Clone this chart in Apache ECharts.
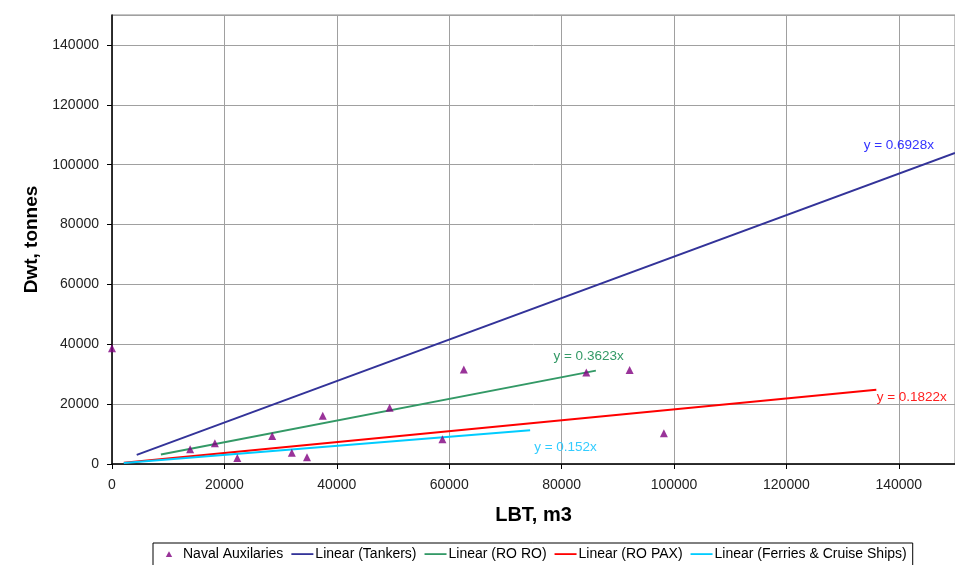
<!DOCTYPE html>
<html><head><meta charset="utf-8">
<script src="https://cdn.jsdelivr.net/npm/echarts@6/dist/echarts.min.js"></script>
<style>html,body{margin:0;padding:0;background:#fff}#c{width:955px;height:565px}</style>
</head><body><div id="c"></div>
<script>
// Naval Auxilaries points [LBT m3, Dwt tonnes]
const navalAux = [
  [0, 38700], [13900, 4900], [18300, 6900], [22300, 2000], [28500, 9350],
  [32000, 3800], [34700, 2250], [37500, 16100], [49400, 18800], [58800, 8250],
  [62600, 31600], [84400, 30600], [92100, 31400], [98200, 10250]
];
// Trend line endpoints
const tankersLine = [[4400, 3050], [150000, 103920]];
const roroLine = [[8700, 3150], [86100, 31200]];
const ropaxLine = [[2100, 380], [136000, 24780]];
const ferriesLine = [[2100, 320], [74400, 11310]];
const equations = ['y = 0.6928x', 'y = 0.3623x', 'y = 0.1822x', 'y = 0.152x'];
const xTicks = {min: 0, max: 150000, interval: 20000};
const yTicks = {min: 0, max: 150000, interval: 20000};

const font = 'Liberation Sans, Arial, sans-serif';
const chart = echarts.init(document.getElementById('c'));

function eqLabel(coord, text, color) {
  return {
    symbol: 'rect', symbolSize: [1, 1], silent: true,
    itemStyle: {color: 'rgba(0,0,0,0)'},
    label: {show: true, position: 'inside', formatter: text, color: color,
      fontFamily: font, fontSize: 13.5},
    data: [{coord: coord, value: text}]
  };
}
const lineIcon = 'path://M0,0M22,8M0,3.2L22,3.2L22,5L0,5Z';
const triIcon = 'path://M0,0M22,8M10,1.2L13.2,7L6.8,7Z';

chart.setOption({
  animation: false,
  grid: {left: 112, right: 0, top: 15, bottom: 101, show: true, borderColor: '#888', borderWidth: 1},
  xAxis: {
    type: 'value', min: xTicks.min, max: xTicks.max, interval: xTicks.interval,
    name: 'LBT, m3', nameLocation: 'middle', nameGap: 41,
    nameTextStyle: {fontFamily: font, fontSize: 20, fontWeight: 'bold', color: '#000'},
    axisLine: {show: true, onZero: false, lineStyle: {color: '#000', width: 1.5}},
    axisTick: {show: true, length: 5, lineStyle: {color: '#000'}},
    axisLabel: {fontFamily: font, fontSize: 14, color: '#222', margin: 14, showMaxLabel: false,
      formatter: v => String(v)},
    splitLine: {show: true, lineStyle: {color: '#a0a0a0', width: 1}}
  },
  yAxis: {
    type: 'value', min: yTicks.min, max: yTicks.max, interval: yTicks.interval,
    name: 'Dwt, tonnes', nameLocation: 'middle', nameGap: 61,
    nameTextStyle: {fontFamily: font, fontSize: 19, fontWeight: 'bold', color: '#000'},
    axisLine: {show: true, onZero: false, lineStyle: {color: '#000', width: 1.5}},
    axisTick: {show: true, length: 5, lineStyle: {color: '#000'}},
    axisLabel: {fontFamily: font, fontSize: 14, color: '#222', margin: 13, showMaxLabel: false,
      formatter: v => String(v)},
    splitLine: {show: true, lineStyle: {color: '#a0a0a0', width: 1}}
  },
  legend: {
    left: 153, top: 543, padding: [4, 6, 8, 6], itemGap: 8, itemWidth: 22, itemHeight: 8,
    borderColor: '#000', borderWidth: 1, backgroundColor: '#fff',
    textStyle: {fontFamily: font, fontSize: 14, color: '#000', padding: [0, 0, 0, -3]},
    data: [
      {name: 'Naval Auxilaries', icon: triIcon},
      {name: 'Linear (Tankers)', icon: lineIcon},
      {name: 'Linear (RO RO)', icon: lineIcon},
      {name: 'Linear (RO PAX)', icon: lineIcon},
      {name: 'Linear (Ferries & Cruise Ships)', icon: lineIcon}
    ]
  },
  series: [
    {name: 'Linear (Tankers)', type: 'line', data: tankersLine, symbol: 'none',
     lineStyle: {color: '#333399', width: 2}, itemStyle: {color: '#333399'},
     markPoint: eqLabel([140000, 106500], equations[0], '#3333ff')},
    {name: 'Linear (RO RO)', type: 'line', data: roroLine, symbol: 'none',
     lineStyle: {color: '#339966', width: 2}, itemStyle: {color: '#339966'},
     markPoint: eqLabel([84800, 36050], equations[1], '#339966')},
    {name: 'Linear (RO PAX)', type: 'line', data: ropaxLine, symbol: 'none',
     lineStyle: {color: '#ff0000', width: 2}, itemStyle: {color: '#ff0000'},
     markPoint: eqLabel([142300, 22350], equations[2], '#ff2020')},
    {name: 'Linear (Ferries & Cruise Ships)', type: 'line', data: ferriesLine, symbol: 'none',
     lineStyle: {color: '#00ccff', width: 2}, itemStyle: {color: '#00ccff'},
     markPoint: eqLabel([80700, 5680], equations[3], '#33ccff')},
    {name: 'Naval Auxilaries', type: 'scatter', data: navalAux, symbol: 'triangle', symbolSize: 8,
     itemStyle: {color: '#800080'}, z: 5}
  ]
});
</script></body></html>
